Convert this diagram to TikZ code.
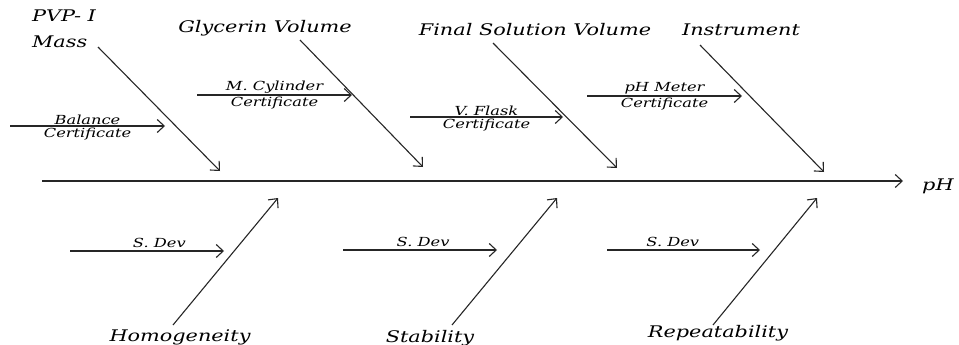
\documentclass[tikz,border=0pt]{standalone}
\usepackage{fontspec}
\setmainfont[FakeStretch=1.3]{DejaVu Serif}
\usetikzlibrary{arrows.meta}

\tikzset{
  cause/.style={font=\fontsize{16}{26}\selectfont\itshape, inner sep=0pt, align=left},
  sub/.style={font=\fontsize{12.5}{14}\selectfont\itshape, inner sep=1pt},
  bone/.style={line width=1.1pt, draw=black!85, -{Straight Barb[length=7pt,width=13pt,line width=1.1pt]}},
}

\begin{document}
\begin{tikzpicture}[x=1pt, y=-1pt]
  \useasboundingbox (0,0) rectangle (959,345);

  % Arete principale
  \coordinate (tail) at (42,181);
  \node[cause, anchor=west] (ph) at (922,186) {pH};
  \coordinate (head) at (903,181);
  \draw[bone] (tail) -- (head);

  % Causes du haut
  \node[cause, anchor=north west] (pvp) at (32,10) {PVP- I\\Mass};
  \node[cause] (gly) at (265,28) {Glycerin Volume};
  \node[cause] (fsv) at (535,30) {Final Solution Volume};
  \node[cause] (ins) at (741,30) {Instrument};

  \coordinate (pvpA) at (98,47);   \coordinate (pvpB) at (220,171);
  \coordinate (glyA) at (300,40);  \coordinate (glyB) at (423,167);
  \coordinate (fsvA) at (493,43);  \coordinate (fsvB) at (617,168);
  \coordinate (insA) at (700,45);  \coordinate (insB) at (824,172);

  \draw[bone] (pvpA) -- (pvpB);
  \draw[bone] (glyA) -- (glyB);
  \draw[bone] (fsvA) -- (fsvB);
  \draw[bone] (insA) -- (insB);

  % sous-causes (haut)
  \coordinate (balA) at (10,126);  \coordinate (balB) at (165,126);
  \coordinate (cylA) at (197,95);  \coordinate (cylB) at (352,95);
  \coordinate (flaA) at (410,117); \coordinate (flaB) at (563,117);
  \coordinate (metA) at (587,96);  \coordinate (metB) at (742,96);

  \draw[bone] (balA) -- (balB) node[sub, midway, above] (bal) {Balance} node[sub, midway, below] (balc) {Certificate};
  \draw[bone] (cylA) -- (cylB) node[sub, midway, above] (cyl) {M. Cylinder} node[sub, midway, below] (cylc) {Certificate};
  \draw[bone] (flaA) -- (flaB) node[sub, midway, above] (fla) {V. Flask} node[sub, midway, below] (flac) {Certificate};
  \draw[bone] (metA) -- (metB) node[sub, midway, above] (met) {pH Meter} node[sub, midway, below] (metc) {Certificate};

  % Causes du bas
  \node[cause] (hom) at (180,337) {Homogeneity};
  \node[cause] (sta) at (430,338) {Stability};
  \node[cause] (rep) at (718,333) {Repeatability};

  \coordinate (homA) at (173,325); \coordinate (homB) at (278,198);
  \coordinate (staA) at (452,325); \coordinate (staB) at (557,198);
  \coordinate (repA) at (713,325); \coordinate (repB) at (817,198);

  \draw[bone] (homA) -- (homB);
  \draw[bone] (staA) -- (staB);
  \draw[bone] (repA) -- (repB);

  % sous-causes (bas)
  \coordinate (sd1A) at (70,251);  \coordinate (sd1B) at (224,251);
  \coordinate (sd2A) at (343,250); \coordinate (sd2B) at (497,250);
  \coordinate (sd3A) at (607,250); \coordinate (sd3B) at (760,250);

  \draw[bone] (sd1A) -- (sd1B) node[sub, pos=0.58, above=2pt] (sd1) {S. Dev};
  \draw[bone] (sd2A) -- (sd2B) node[sub, pos=0.52, above=2pt] (sd2) {S. Dev};
  \draw[bone] (sd3A) -- (sd3B) node[sub, pos=0.43, above=2pt] (sd3) {S. Dev};
\end{tikzpicture}
\end{document}
